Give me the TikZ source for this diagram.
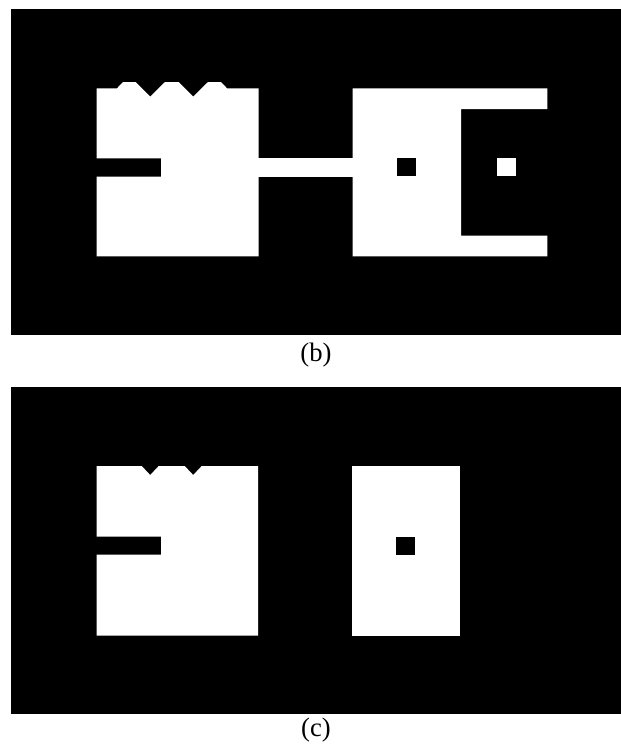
\documentclass[tikz,border=0pt]{standalone}
\usepackage{fontspec}
\setmainfont{Liberation Serif}
\begin{document}
\begin{tikzpicture}[x=0.75pt, y=-0.75pt,
    panel/.style={fill=black},
    part/.style={fill=white},
    hole/.style={fill=black},
    caption/.style={font=\fontsize{20}{24}\selectfont, inner sep=0pt}
]
    \useasboundingbox (0,0) rectangle (621,746);

    % panel (b)
    \fill[panel] (11,9) rectangle (621,335);
    \fill[part] (96.5,88.3) -- (117,88.3) -- (123,82) -- (135.5,82)
        -- (150.2,96.7) -- (165,82) -- (178.5,82) -- (193.2,96.7)
        -- (208,82) -- (221,82) -- (227,88.3) -- (258.5,88.3)
        -- (258.5,256.3) -- (96.5,256.3) -- (96.5,176.5) -- (161,176.5)
        -- (161,158.3) -- (96.5,158.3) -- cycle;
    \fill[part] (258,157.5) rectangle (353,177.3);
    \fill[part] (352.5,88.3) -- (547.3,88.3) -- (547.3,109.2) -- (461.2,109.2)
        -- (461.2,235.5) -- (547.3,235.5) -- (547.3,256.3) -- (352.5,256.3) -- cycle;
    \fill[hole] (397.3,158.3) rectangle (416,176.3);
    \fill[part] (497.3,158.3) rectangle (516,176.3);
    \node[caption] (capb) at (316,355) {(b)};

    % panel (c)
    \fill[panel] (11,387) rectangle (621,714);
    \fill[part] (96.5,466) -- (141.7,466) -- (150.2,475) -- (158.7,466)
        -- (184.7,466) -- (193.2,475) -- (201.7,466) -- (258,466)
        -- (258,635.7) -- (96.5,635.7) -- (96.5,554.7) -- (161,554.7)
        -- (161,536.7) -- (96.5,536.7) -- cycle;
    \fill[part] (351.7,466) rectangle (460,635.7);
    \fill[hole] (395.7,537) rectangle (415,554.7);
    \node[caption] (capc) at (316,730) {(c)};
\end{tikzpicture}
\end{document}
